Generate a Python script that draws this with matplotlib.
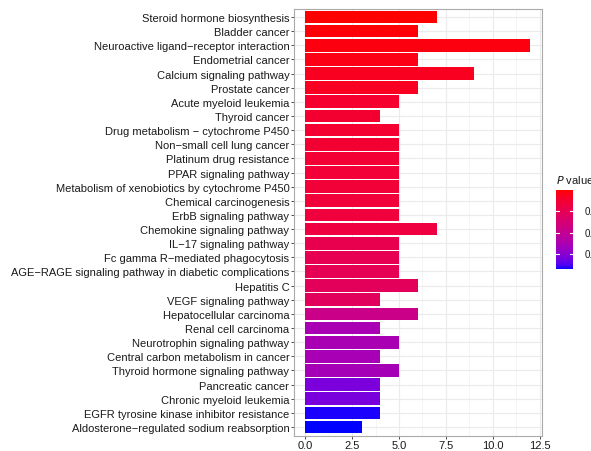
import numpy as np
import matplotlib
matplotlib.use('Agg')
import matplotlib.pyplot as plt
from matplotlib.colors import ListedColormap, Normalize
from matplotlib.ticker import MultipleLocator

plt.rcParams['font.family'] = ['Liberation Sans', 'DejaVu Sans']

# pathway terms, top to bottom
pathways = [
    'Steroid hormone biosynthesis',
    'Bladder cancer',
    'Neuroactive ligand\u2212receptor interaction',
    'Endometrial cancer',
    'Calcium signaling pathway',
    'Prostate cancer',
    'Acute myeloid leukemia',
    'Thyroid cancer',
    'Drug metabolism \u2212 cytochrome P450',
    'Non\u2212small cell lung cancer',
    'Platinum drug resistance',
    'PPAR signaling pathway',
    'Metabolism of xenobiotics by cytochrome P450',
    'Chemical carcinogenesis',
    'ErbB signaling pathway',
    'Chemokine signaling pathway',
    'IL\u221217 signaling pathway',
    'Fc gamma R\u2212mediated phagocytosis',
    'AGE\u2212RAGE signaling pathway in diabetic complications',
    'Hepatitis C',
    'VEGF signaling pathway',
    'Hepatocellular carcinoma',
    'Renal cell carcinoma',
    'Neurotrophin signaling pathway',
    'Central carbon metabolism in cancer',
    'Thyroid hormone signaling pathway',
    'Pancreatic cancer',
    'Chronic myeloid leukemia',
    'EGFR tyrosine kinase inhibitor resistance',
    'Aldosterone\u2212regulated sodium reabsorption',
]
gene_count = [7, 6, 12, 6, 9, 6, 5, 4, 5, 5, 5, 5, 5, 5, 5,
              7, 5, 5, 5, 6, 4, 6, 4, 5, 4, 5, 4, 4, 4, 3]
p_value = [0.0400, 0.0395, 0.0390, 0.0385, 0.0374, 0.0372, 0.0356, 0.0355,
           0.0353, 0.0350, 0.0348, 0.0345, 0.0343, 0.0340, 0.0335, 0.0330,
           0.0308, 0.0305, 0.0300, 0.0289, 0.0285, 0.0215, 0.0148, 0.0146,
           0.0144, 0.0140, 0.0085, 0.0083, 0.0034, 0.0030]
legend_ticks = [0.01, 0.02, 0.03]
x_ticks = [0.0, 2.5, 5.0, 7.5, 10.0, 12.5]


# blue -> red gradient interpolated in CIE Lab
def srgb_to_lab(rgb):
    rgb = np.asarray(rgb, float)
    lin = np.where(rgb <= 0.04045, rgb / 12.92, ((rgb + 0.055) / 1.055) ** 2.4)
    M = np.array([[0.4124, 0.3576, 0.1805],
                  [0.2126, 0.7152, 0.0722],
                  [0.0193, 0.1192, 0.9505]])
    xyz = M @ lin / np.array([0.95047, 1.0, 1.08883])
    f = np.where(xyz > 0.008856, np.cbrt(xyz), 7.787 * xyz + 16 / 116)
    return np.array([116 * f[1] - 16, 500 * (f[0] - f[1]), 200 * (f[1] - f[2])])


def lab_to_srgb(lab):
    L, a, b = lab
    fy = (L + 16) / 116
    fx = fy + a / 500
    fz = fy - b / 200
    f = np.array([fx, fy, fz])
    xyz = np.where(f ** 3 > 0.008856, f ** 3, (f - 16 / 116) / 7.787)
    xyz = xyz * np.array([0.95047, 1.0, 1.08883])
    Minv = np.array([[3.2406, -1.5372, -0.4986],
                     [-0.9689, 1.8758, 0.0415],
                     [0.0557, -0.2040, 1.0570]])
    lin = Minv @ xyz
    lin = np.clip(lin, 0, 1)
    rgb = np.where(lin <= 0.0031308, 12.92 * lin, 1.055 * lin ** (1 / 2.4) - 0.055)
    return np.clip(rgb, 0, 1)


lab_lo = srgb_to_lab([0, 0, 1])
lab_hi = srgb_to_lab([1, 0, 0])
grad = [lab_to_srgb(lab_lo + t * (lab_hi - lab_lo)) for t in np.linspace(0, 1, 256)]
cmap = ListedColormap(grad)
norm = Normalize(vmin=min(p_value), vmax=max(p_value))

fig = plt.figure(figsize=(5.91, 4.52), dpi=100)
ax = fig.add_axes([294 / 591, 1 - 436.5 / 452, 247.5 / 591, 427 / 452])

n = len(pathways)
ypos = np.arange(n)[::-1] + 1
ax.barh(ypos, gene_count, height=0.9, color=cmap(norm(p_value)),
        edgecolor='none', zorder=3)

ax.set_xlim(-0.6, 12.6)
ax.set_ylim(0.4, n + 0.6)
ax.set_xticks(x_ticks)
ax.set_xticklabels(['%.1f' % v for v in x_ticks])
ax.xaxis.set_minor_locator(MultipleLocator(1.25))
ax.set_yticks(ypos)
ax.set_yticklabels(pathways)

ax.grid(which='major', color='#EBEBEB', linewidth=0.8, zorder=0)
ax.grid(which='minor', axis='x', color='#F2F2F2', linewidth=0.5, zorder=0)
ax.tick_params(which='major', length=2.2, width=0.6, color='#333333',
               labelsize=8, labelcolor='#1a1a1a', pad=1.2)
ax.tick_params(which='minor', length=0)
for s in ax.spines.values():
    s.set_color('#AAAAAA')
    s.set_linewidth(0.8)

# colour bar legend
cax = fig.add_axes([556 / 591, 1 - 270 / 452, 17 / 591, 79 / 452])
vals = np.linspace(norm.vmin, norm.vmax, 200).reshape(-1, 1)
cax.imshow(vals, cmap=cmap, norm=norm, aspect='auto', origin='lower',
           extent=[0, 1, norm.vmin, norm.vmax])
cax.set_xlim(0, 1)
cax.set_ylim(norm.vmin, norm.vmax)
cax.set_xticks([])
cax.set_yticks([])
for s in cax.spines.values():
    s.set_visible(False)
for t in legend_ticks:
    cax.plot([0, 0.2], [t, t], color='white', lw=0.8)
    cax.plot([0.8, 1], [t, t], color='white', lw=0.8)
    cax.text(1.7, t, '%.2f' % t, fontsize=7, va='center', ha='left',
             color='#1a1a1a', clip_on=False)
fig.text(556 / 591, 1 - 180 / 452, '$\\mathit{P}$ value', fontsize=8,
         va='center', ha='left', color='#1a1a1a')

plt.savefig('out.png', dpi=100)
